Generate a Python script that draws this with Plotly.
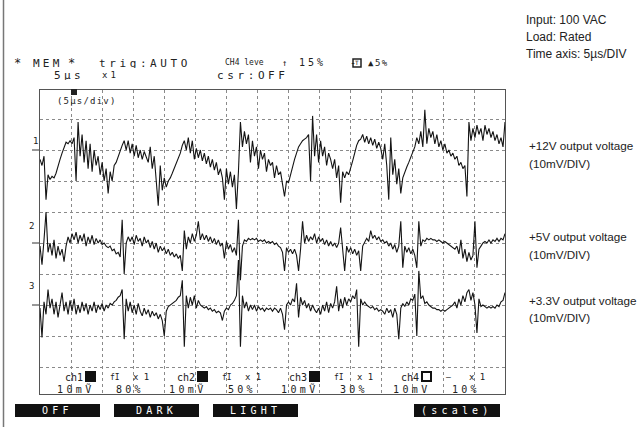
import numpy as np
import plotly.graph_objects as go

W, H = 639, 427

# 15 div x 5 us/div, one sample every ~0.32 us
t_us = np.linspace(0, 75, 233)

# ripple, mV relative to each channel's reference mark
ch1_mv = [
    -3, -5, -2, -16, -8, -9.5, -8.5, -9, -7.5, -5,
    -3, -1, 1, 2.5, 2, 3, 2, 4, -10, 9,
    -2, 5, -4, 3, -6, 2, -7, 0, -5, -2,
    -8, -4, -10, -6, -14, -7, -10, -5, -4, -2,
    0, 1.5, 3, 0, 3, -1, 2, -2, 1.5, -2.5,
    0, -3, -0.5, -2, -4, 1, -6, -2, -9, -18,
    -5, -13, -9, -12, -10, -9, -7.5, -6, -4, -2.5,
    -1, 1.5, 3, 0, 4, -1, 3, -3, 0.5, -2.5,
    0, -3.5, -1, -4.5, -2, -5.5, -3, -6.5, -4, -8,
    -6, -9, -16, -6, -11, -7, -12, -8, -19, -7,
    9, 1, 6, 2, 5, -4, 3, -2, 1, -6,
    0, -3, -1, -7, -3, -5, -4, -9, -5, -8,
    -7, -11, -15, -10, -10.5, -8, -5, -3, -1, 1,
    2, 3, 3.5, 4, 5, -10, 11, -2, 5, -4,
    3, -2, 1, -5, -1, -3, -6, -3, -9, -5,
    -17, -7, -9, -7, -8, -6, -3.5, -1, 1.5, 3,
    3.5, 5, 2.5, 4.5, 2, 4, 1.5, 3.5, 0.5, 2.5,
    0.5, -3, 2, -5, -16, 4, -8, -3, -11, -6,
    -14, -9, -7, -5.5, -4, -2.5, -1, 1, 4, 2,
    6, 1, 13, 2, 7, 4, 6, 2, 5, 1,
    3, 0, 2, -1, 0, -2, -1, -3, -2, -5,
    -4, -6, -5, -15, 9, 3, 7, 4, 8, 5,
    7, 3, 8, 5, 7, 4, 6, 3, 5, 2,
    4, 1, 9,
]
ch2_mv = [
    -1, -7, 1, 10, -3, 0, -4, 1, -5, -1,
    -4, -2, -6, -1, 2, 0, 3, 1, 3.5, 0,
    2.5, 0.5, 3, -1, 2, 0, 2.5, -0.5, 1.5, 0,
    1, -0.5, 0, -1, -1.5, -1, -2.5, -2, -3.5, -3,
    -4.5, 7.5, -10, 0, 2, 0.5, 2, -0.5, 2.5, 0.5,
    1.5, -1, 2, 0, 1, -1.5, 0.5, -2, 0, -3,
    -1, -2.5, -1.5, -3.5, -2, -4, -3, -4.5, -3.5, -5,
    -4, -9, 4, -2, 2, 0, 3, 0.5, 2.5, 7,
    1, 3, 1, 2.5, 0.5, 2, 0, 1.5, -0.5, 1,
    -1, 0, -5, 0.5, -2, -0.5, -3, -1.5, -4, 7.5,
    -12, -1, 1, 0.5, 1.5, 1, 1.5, 1, 1.5, 0.5,
    1, 0.5, 1, 0, 0.5, 0, 0.5, -0.5, 0, -1,
    -1.5, -3, -9, -1.5, -3, -2, -3.5, -2, -4, -9,
    -2, 7, 0, 2.5, 0.5, 2, 1, 3, 0, 2,
    0.5, 1.5, -0.5, 1, -1, 0.5, -1, 0, -1.5, 0,
    5, -2, -9, -1, -3, -1.5, -3.5, -2, -4, -2.5,
    -9, -1, 0.5, 1.5, 0.5, 4, 1.5, 2.5, 1, 2,
    0.5, 1, 0, 0.5, -1, 0, -2, -0.5, -3, -1,
    7, -8, -1, -3, -1.5, -3.5, -2, -4, -8, 7,
    -1, 1, 0.5, 1.5, 1, 1.5, 1, 1, 0.5, 1,
    0.5, 0, 0.5, 0, -0.5, -1, -1.5, -2, -1, -3.5,
    1, -5, -2, -6, -3, -5.5, -4, 7, -8, -2,
    -1, 0, 0.5, 0, 1, 0, 1, 0.5, 1.5, 0.5,
    1.5, 1, 3,
]
ch3_mv = [
    -1, -10.5, 1, -3, 5, -1, 2, -3, 1, -4,
    0, 4, -2, 1, -3, 1.5, -2, 2, -3, 0,
    -2.5, 1, -2, 0.5, -3, 0, -2, 1, -2.5, 0,
    -1.5, 0.5, -2, 0, -1, 0.5, 0, 1, 1.5, 2.5,
    3, 5, -11, 2, -2, 1, -2.5, 0, -3, 0.5,
    -2, -3.5, -1, -3, -1.5, -4, -2, -3.5, -2.5, -4.5,
    -3, -5, -10, -2, -0.5, 0, 0.5, 1, 1.5, 2.5,
    3, 8, -13.5, 3, -1, 2.5, 0, 3, -1, 1.5,
    0, -0.5, -1, -0.5, -1.5, -1, -2, -1.5, -2.5, -2,
    -2.5, -5, -2, -1, -1.5, 0, 0.5, 1.5, 3, 14.5,
    -13.5, 3, -1, 1, -2, 0, -1.5, 0, -2, -0.5,
    -1.5, -1, -2, -1, -1.5, -1, -2, -1, -1.5, -2.5,
    -1, -3, -8, 0, 1, 0, 2, 1, 7, -4,
    2.5, 0, 1.5, -1, 0.5, -2, 0, -1.5, -2.5, -1,
    -3, 0, -2, 1, -2.5, 0.5, -1, 1, 6, -2,
    2, -1, 2.5, 0, 2, 1, 3, 2, 5, -13.5,
    2, 0, 1, 0, -0.5, -1, -0.5, -1.5, -1, -2,
    -1.5, -2, -3, -1, -2.5, -1.5, -4, -1, -3, -11,
    -1, 0.5, -0.5, 1, 0, 2, 1.5, 3.5, -10, 11,
    2, 3, 0.5, 1, 0, -0.5, -1, -1, -1.5, -1.5,
    -2, -1.5, -2, -1.5, -1, -0.5, 0, 1, -1, 2,
    0, 3, 1, 4, 5, 1.5, 4, 0, -9, 2,
    -0.5, 0, -0.5, -1, -0.5, -1, -0.5, -1, 0, -0.5,
    1, 1.5, 4,
]

channels = ["1", "2", "3"]
ref_div = [7, 4, 2]          # reference mark of each channel, in divisions
mv_per_div = 10
traces_mv = [ch1_mv, ch2_mv, ch3_mv]

out_labels = ["+12V output voltage", "+5V output voltage", "+3.3V output voltage"]
conditions = ["Input: 100 VAC", "Load: Rated", "Time axis: 5µs/DIV"]

ch_names = ["ch1", "ch2", "ch3", "ch4"]
ch_volts = ["10mṼ", "10mṼ", "10mṼ", "10mV"]
ch_pos = ["80%", "50%", "30%", "10%"]


def px(x):
    return x / W


def py(y):
    return 1 - y / H


def ls(text, s):
    return f'<span style="letter-spacing:{s}px">{text}</span>'


MONO = "DejaVu Sans Mono"
SANS = "Liberation Sans"

fig = go.Figure()
for name, vals, ref in zip(channels, traces_mv, ref_div):
    fig.add_trace(go.Scatter(
        x=t_us,
        y=ref + np.array(vals) / mv_per_div,
        mode="lines",
        line=dict(color="#141414", width=1.1),
        name="ch" + name,
        hoverinfo="skip",
    ))

anns = []


def ann(x, y, text, size=10, family=MONO, color="#222", **kw):
    anns.append(dict(
        x=px(x), y=py(y), xref="paper", yref="paper", text=text,
        showarrow=False, xanchor=kw.pop("xanchor", "left"), yanchor="middle",
        font=dict(family=family, size=size, color=color), **kw,
    ))


# scope header
ann(12, 63, "*", 12, height=10)
ann(31, 63, ls("MEM", 3.2), 11, height=10)
ann(66, 63, "*", 12, height=10)
ann(97, 63, ls("trig:AUTO", 3.6), 11, height=10)
ann(223, 63, "CH4 leve", 8)
ann(280, 63, "↑", 9)
ann(297, 63, ls("15%", 3), 10)
ann(348, 63, "-", 10)
ann(366, 63, ls("▲5%", 1.5), 9)
ann(52, 75, ls("5µs", 3.4), 11, height=10)
ann(100, 75, ls("x1", 3), 9, height=10)
ann(215, 75, ls("csr:OFF", 3.6), 11, height=10)
ann(55, 101, ls("(5µs/div)", 1.2), 9)

# conditions and channel captions
for i, c in enumerate(conditions):
    ann(524, 20 + 17 * i, c, 12, SANS)
for lbl, yy in zip(out_labels, [146, 237, 300]):
    ann(527, yy, lbl, 11.7, SANS)
    ann(527, yy + 17, "(10mV/DIV)", 11.7, SANS)

# channel reference marks at the left of the screen
for name, yy, xx in zip(channels, [141, 226, 286], [35, 31, 31]):
    ann(xx, yy, name, 9, xanchor="center")

# channel settings row inside the screen
shapes = []
for k in range(4):
    x0 = 55 + 112 * k
    ann(x0 + 8, 377, ch_names[k], 10)
    ann(x0 + 53, 377, "fI" if k < 3 else "–", 8)
    ann(x0 + 76, 377, "x 1", 9)
    ann(x0, 389, ls(ch_volts[k], 3.4), 10)
    ann(x0 + 59, 389, ls(ch_pos[k], 3.2), 10)
    shapes.append(dict(type="rect", xref="paper", yref="paper",
                       x0=px(x0 + 31), x1=px(x0 + 40), y0=py(381), y1=py(372),
                       fillcolor="#111" if k < 3 else "white",
                       line=dict(color="#111", width=2)))

# soft-key buttons
for lab, x0, x1 in [("OFF", 15, 100), ("DARK", 114, 199), ("LIGHT", 213, 298), ("(scale)", 414, 500)]:
    shapes.append(dict(type="rect", xref="paper", yref="paper",
                       x0=px(x0), x1=px(x1), y0=py(417), y1=py(404),
                       fillcolor="#111", line=dict(width=0)))
    ann((x0 + x1) / 2, 410.5, ls(lab, 4.2), 10, color="white", xanchor="center")

# reference dashes, trigger marks, frame border
for yy in [150, 243, 305]:
    shapes.append(dict(type="line", xref="paper", yref="paper",
                       x0=px(32), x1=px(39), y0=py(yy), y1=py(yy),
                       line=dict(color="#333", width=1)))
shapes.append(dict(type="rect", xref="paper", yref="paper",
                   x0=px(71), x1=px(77), y0=py(95), y1=py(89),
                   fillcolor="#222", line=dict(width=0)))
shapes.append(dict(type="rect", xref="paper", yref="paper",
                   x0=px(353), x1=px(361), y0=py(67), y1=py(59),
                   fillcolor="white", line=dict(color="#222", width=1.5)))
ann(357, 63, "T", 6, xanchor="center")
shapes.append(dict(type="line", xref="paper", yref="paper",
                   x0=px(3.5), x1=px(3.5), y0=0, y1=1,
                   line=dict(color="#777", width=1.5)))

grid = dict(showgrid=True, griddash="dot", gridcolor="#8a8a8a", gridwidth=1,
            showticklabels=False, ticks="", zeroline=False,
            showline=True, mirror=True, linecolor="#555", linewidth=1)

fig.update_layout(
    width=W, height=H,
    margin=dict(l=0, r=0, t=0, b=0),
    paper_bgcolor="white", plot_bgcolor="white",
    showlegend=False,
    xaxis=dict(domain=[px(40), px(505)], range=[0, 75], dtick=5, tick0=0, **grid),
    yaxis=dict(domain=[py(394), py(90)], range=[(367 - 394) / 31, (367 - 90) / 31],
               dtick=1, tick0=0, **grid),
    annotations=anns,
    shapes=shapes,
)

# the page's default body margin would push the 639x427 figure out of the window
fig.write_html("out.html", config={"displayModeBar": False},
               post_script="document.body.style.margin='0';")
